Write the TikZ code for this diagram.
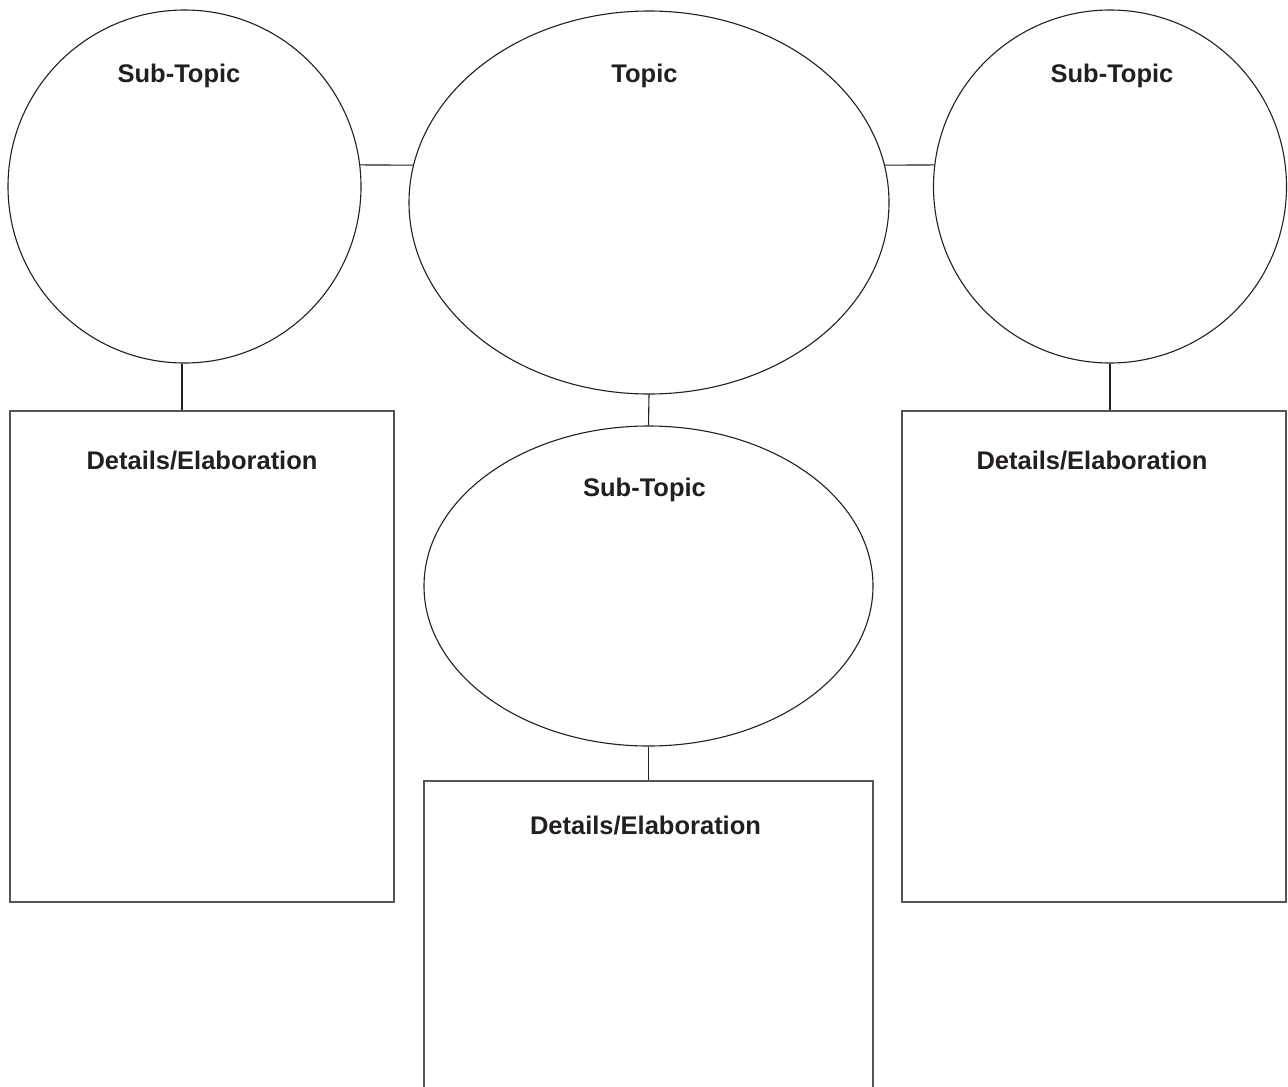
\documentclass[tikz,border=0pt]{standalone}
\usepackage{fontspec}
\setmainfont{Liberation Sans}
\usepackage{xcolor}
\usepackage{tikz}
\definecolor{ink}{HTML}{231f20}
\definecolor{boxline}{HTML}{555555}
\usetikzlibrary{shapes.geometric, positioning, calc}

\begin{document}
\begin{tikzpicture}[x=1pt, y=-1pt,
  bubble/.style={ellipse, draw=ink, line width=1.1pt, inner sep=0pt},
  detailbox/.style={rectangle, draw=boxline, line width=1.3pt, inner sep=0pt},
  title/.style={anchor=base, text=ink, font=\fontsize{25.5}{30}\selectfont\bfseries},
  link/.style={draw=ink, line width=1.1pt}]
\clip (0,0) rectangle (1288,1087);
\node[bubble, minimum width=353pt, minimum height=353pt] (subl) at (184.5,186.5) {};
\node[bubble, minimum width=480pt, minimum height=383pt] (topic) at (649,202.5) {};
\node[bubble, minimum width=353pt, minimum height=353pt] (subr) at (1110,186.5) {};
\node[bubble, minimum width=449pt, minimum height=320pt] (subm) at (648.5,586) {};
\node[detailbox, minimum width=384pt, minimum height=491pt] (detl) at (202,656.5) {};
\node[detailbox, minimum width=384pt, minimum height=491pt] (detr) at (1094,656.5) {};
\node[detailbox, minimum width=449pt, minimum height=340pt] (detm) at (648.5,951) {};
% labels
\node[title] (subltext) at (179,82) {Sub-Topic};
\node[title] (topictext) at (644.5,82) {Topic};
\node[title] (subrtext) at (1112,82) {Sub-Topic};
\node[title] (submtext) at (644.5,496) {Sub-Topic};
\node[title] (detltext) at (202,469) {Details/Elaboration};
\node[title] (detrtext) at (1092,469) {Details/Elaboration};
\node[title] (detmtext) at (645.5,834) {Details/Elaboration};
% connectors
\draw[link] (subl.7) -- (topic.171);
\draw[link] (topic.9) -- (subr.173);
\draw[link] ([xshift=-2.5pt]subl.south) -- ([xshift=-2.5pt]subl.south |- detl.north);
\draw[link] (subr.south) -- (subr.south |- detr.north);
\draw[link] (topic.south) -- (subm.north);
\draw[link] (subm.south) -- (detm.north);
\end{tikzpicture}
\end{document}
